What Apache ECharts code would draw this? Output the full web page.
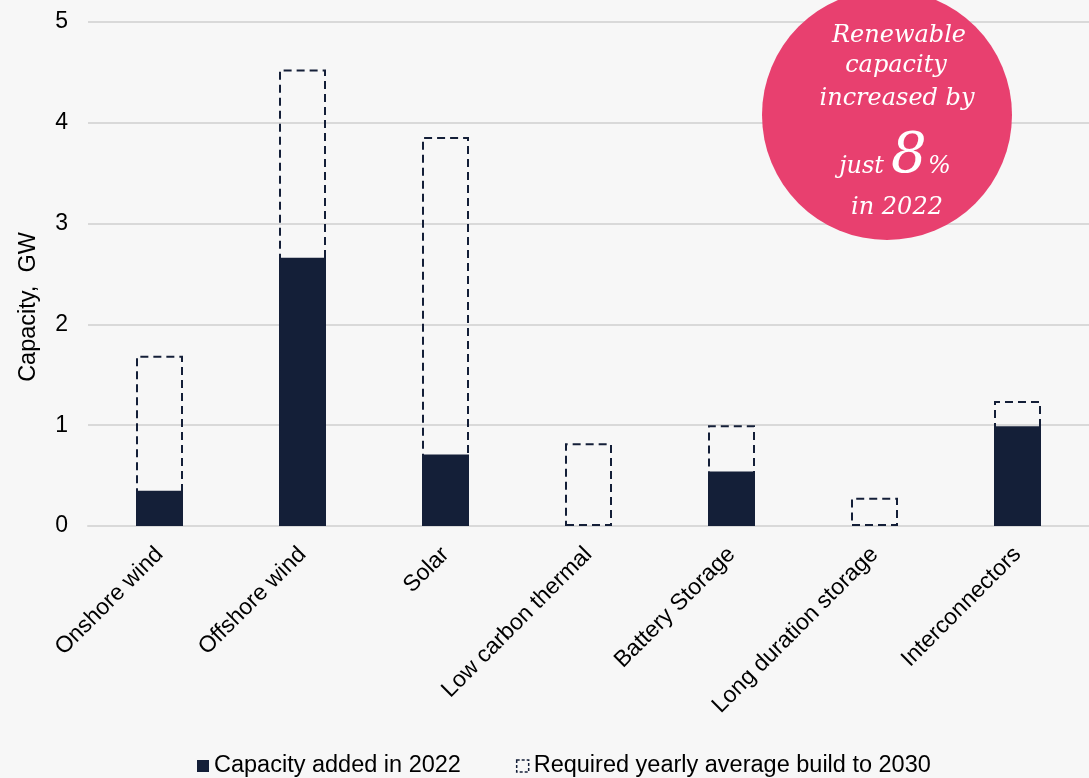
<!DOCTYPE html>
<html>
<head>
<meta charset="utf-8">
<script src="https://cdn.jsdelivr.net/npm/echarts@6/dist/echarts.min.js"></script>
<style>
  html, body { margin: 0; padding: 0; background: #f7f7f7; }
  #chart { width: 1089px; height: 778px; }
</style>
</head>
<body>
<div id="chart"></div>
<script>
// Technologies on the x axis
const categories = ['Onshore wind', 'Offshore wind', 'Solar', 'Low carbon thermal', 'Battery Storage', 'Long duration storage', 'Interconnectors'];
// GW added during 2022
const added2022 = [0.35, 2.66, 0.71, 0, 0.54, 0, 0.99];
// GW per year needed on average to reach the 2030 targets
const requiredYearly = [1.69, 4.53, 3.86, 0.82, 1.00, 0.28, 1.24];
const yTicks = [0, 1, 2, 3, 4, 5];
const seriesNames = ['Capacity added in 2022', 'Required yearly average build to 2030'];

const navy = '#141f38';
const pink = '#e8406f';
const sans = 'Liberation Sans, Arial, sans-serif';
const serif = '"DejaVu Serif", "Liberation Serif", serif';
const dash = [8, 5];

const chart = echarts.init(document.getElementById('chart'), null, { renderer: 'canvas' });

// white italic lines inside the callout circle
function calloutText(str, x, y, size, align) {
  return {
    type: 'text', x: x, y: y, z: 11,
    style: { text: str, fill: '#fff', font: 'italic ' + size + 'px ' + serif, align: align || 'center', verticalAlign: 'middle' }
  };
}

chart.setOption({
  backgroundColor: '#f7f7f7',
  animation: false,
  grid: { left: 88, top: 22, width: 1020, height: 504 },
  legend: {
    top: 749,
    left: 192,
    icon: 'rect',
    itemWidth: 12,
    itemHeight: 12,
    itemGap: 55,
    textStyle: { fontFamily: sans, fontSize: 23.5, color: '#000' },
    data: [
      { name: seriesNames[0] },
      { name: seriesNames[1], itemStyle: { color: 'rgba(0,0,0,0)', borderColor: navy, borderWidth: 1.5, borderType: [3, 2] } }
    ]
  },
  xAxis: {
    type: 'category',
    data: categories,
    axisTick: { show: false },
    axisLine: { lineStyle: { color: '#d9d9d9', width: 2 } },
    axisLabel: { rotate: 45, margin: 25, fontFamily: sans, fontSize: 23, color: '#000', interval: 0 }
  },
  yAxis: {
    type: 'value',
    min: yTicks[0],
    max: yTicks[yTicks.length - 1],
    interval: 1,
    axisLabel: { fontFamily: sans, fontSize: 23, color: '#000', margin: 20 },
    splitLine: { lineStyle: { color: '#d9d9d9', width: 2 } },
    axisLine: { show: false },
    axisTick: { show: false }
  },
  series: [
    {
      name: seriesNames[0],
      type: 'bar',
      data: added2022,
      barWidth: 47,
      itemStyle: { color: navy }
    },
    {
      name: seriesNames[1],
      type: 'bar',
      data: requiredYearly,
      barWidth: 47,
      barGap: '-100%',
      itemStyle: {
        color: 'rgba(0,0,0,0)',
        borderColor: navy,
        borderWidth: 2,
        borderType: dash
      }
    }
  ],
  graphic: [
    {
      type: 'text', x: 29, y: 307, rotation: Math.PI / 2,
      style: { text: 'Capacity,  GW', fill: '#000', font: '23.5px ' + sans, align: 'center', verticalAlign: 'middle' }
    },
    {
      type: 'circle',
      shape: { cx: 887, cy: 115, r: 125 },
      style: { fill: pink },
      z: 10
    },
    calloutText('Renewable', 899, 36, 24),
    calloutText('capacity', 896, 66, 24),
    calloutText('increased by', 897, 99, 24),
    calloutText('just', 884, 167, 24, 'right'),
    calloutText('8', 891, 157, 56, 'left'),
    calloutText('%', 928, 167, 24, 'left'),
    calloutText('in 2022', 897, 208, 24)
  ]
});
</script>
</body>
</html>
